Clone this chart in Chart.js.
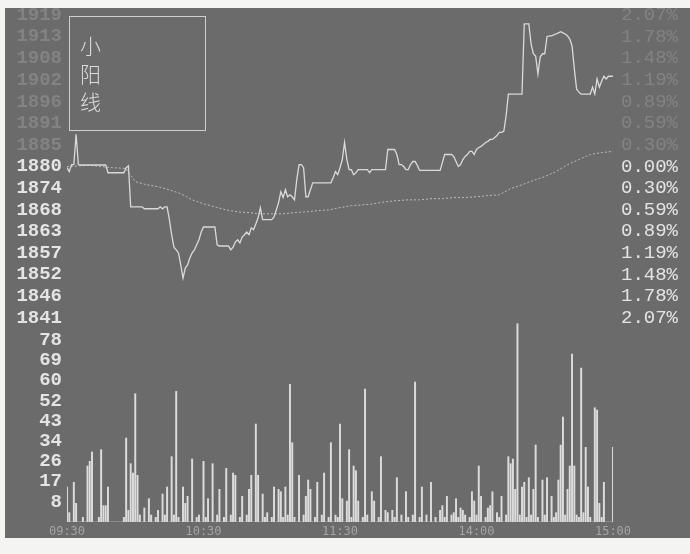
<!DOCTYPE html>
<html>
<head>
<meta charset="utf-8">
<script src="https://cdn.jsdelivr.net/npm/chart.js@4/dist/chart.umd.min.js"></script>
<style>
  html, body { margin: 0; padding: 0; background: #f4f4f2; width: 690px; height: 554px; overflow: hidden; }
  #panel { position: absolute; left: 5px; top: 8px; width: 685px; height: 530px; background: #6b6b6b; }
  #c { position: absolute; left: 0; top: 0; }
  #legendBox { position: absolute; left: 64px; top: 8px; width: 135px; height: 113px; border: 1.5px solid #cfcfcf; }
  #legendText { position: absolute; left: 10px; top: 14px; width: 24px; font-family: "Noto Sans CJK SC", sans-serif; font-weight: 300; font-size: 21px; line-height: 28px; color: #dcdcdc; }
</style>
</head>
<body>
<div id="panel">
  <canvas id="c" width="685" height="530"></canvas>
  <div id="legendBox"><div id="legendText">小<br>阳<br>线</div></div>
</div>
<script>
// ---- data ----
const timeTickLabels = ["09:30", "10:30", "11:30", "14:00", "15:00"];
const timeTickMinutes = [0, 60, 120, 180, 240];

const prevClose = 1880.0;
const priceTickValues = [1840.9, 1846.5, 1852.1, 1857.7, 1863.3, 1868.8, 1874.4, 1880.0, 1885.6, 1891.2, 1896.7, 1902.3, 1907.9, 1913.5, 1919.1];
const priceTickLabels = ["1841", "1846", "1852", "1857", "1863", "1868", "1874", "1880", "1885", "1891", "1896", "1902", "1908", "1913", "1919"];
const pctTickLabels = ["2.07%", "1.78%", "1.48%", "1.19%", "0.89%", "0.59%", "0.30%", "0.00%", "0.30%", "0.59%", "0.89%", "1.19%", "1.48%", "1.78%", "2.07%"];

const volTickValues = [8.66, 17.32, 25.98, 34.64, 43.3, 51.96, 60.62, 69.28, 77.94];
const volTickLabels = ["8", "17", "26", "34", "43", "52", "60", "69", "78"];

// price per minute (0 = 09:30 ... 240 = 15:00)
const priceValues = [
  1879.7,1878.7,1880.5,1880.5,1888.3,1880.5,1880.4,1880.4,1880.4,1880.4,
  1880.4,1880.4,1880.4,1880.4,1880.4,1880.4,1880.4,1880.4,1878.4,1878.4,
  1878.4,1878.4,1878.4,1878.4,1878.4,1878.4,1879.7,1880.2,1869.6,1869.6,
  1869.6,1869.6,1869.6,1869.6,1869.1,1869.1,1869.1,1869.1,1869.1,1869.1,
  1869.1,1869.6,1869.1,1869.6,1869.6,1866.3,1862.4,1859.2,1858.5,1857.7,
  1854.6,1851.2,1853.8,1854.6,1856.4,1857.7,1858.5,1859.8,1861.1,1863.1,
  1864.4,1864.4,1864.4,1864.4,1864.4,1864.4,1859.8,1859.5,1859.5,1859.5,
  1859.5,1859.5,1858.5,1859.2,1860.5,1861.1,1860.3,1861.8,1862.4,1863.1,
  1862.4,1864.2,1863.7,1865.2,1866.8,1869.4,1866.3,1866.3,1866.3,1866.3,
  1866.3,1867.0,1868.8,1870.7,1873.5,1872.0,1874.0,1872.2,1872.7,1872.2,
  1871.4,1876.6,1880.5,1880.5,1879.7,1872.2,1872.2,1874.0,1875.8,1875.8,
  1875.8,1875.8,1875.8,1875.8,1875.8,1875.8,1875.8,1877.1,1878.7,1877.9,
  1879.7,1881.8,1886.2,1881.8,1879.2,1879.2,1877.9,1878.4,1879.2,1879.2,
  1879.2,1879.2,1879.2,1878.4,1879.2,1879.2,1879.2,1879.2,1879.2,1879.2,
  1879.2,1884.4,1884.4,1884.4,1884.4,1883.1,1880.5,1880.5,1880.0,1879.2,
  1879.2,1880.5,1881.3,1881.3,1880.3,1879.0,1879.0,1879.0,1879.0,1879.0,
  1879.0,1879.0,1879.0,1879.0,1879.0,1881.0,1883.1,1883.1,1883.1,1883.1,
  1882.6,1881.3,1880.0,1880.5,1881.8,1882.6,1883.1,1883.9,1883.9,1883.1,
  1884.4,1884.9,1885.2,1885.7,1886.2,1886.5,1887.0,1887.0,1887.5,1888.0,
  1888.8,1888.8,1889.1,1893.0,1898.7,1898.7,1898.7,1898.7,1898.7,1898.7,
  1898.7,1916.8,1916.8,1916.8,1911.6,1909.1,1908.5,1903.9,1908.3,1909.1,
  1909.1,1913.5,1913.7,1913.7,1914.0,1914.2,1914.5,1914.8,1914.5,1914.2,
  1913.7,1912.9,1911.1,1905.2,1900.0,1899.2,1898.7,1898.7,1898.7,1898.7,
  1898.7,1900.5,1898.7,1902.6,1900.5,1902.0,1903.3,1902.6,1903.3,1903.3,
  1903.3
];

// average price line, read at these minutes
const avgMinutes = [0,10,20,26,28,30,35,40,45,50,55,60,65,70,75,80,85,90,95,100,105,110,115,120,125,130,135,140,145,150,155,160,165,170,175,180,185,190,195,200,205,210,215,220,225,230,235,240];
const avgValues = [1880.0,1880.3,1879.7,1879.5,1877.7,1876.1,1875.3,1874.8,1874.0,1873.0,1871.4,1870.4,1869.6,1868.8,1868.3,1868.1,1867.8,1867.8,1867.8,1868.1,1868.3,1868.6,1868.8,1869.4,1869.9,1870.1,1870.4,1870.9,1871.2,1871.4,1871.4,1871.7,1871.7,1872.0,1872.0,1872.2,1872.5,1872.7,1874.3,1875.3,1876.4,1877.4,1878.7,1880.5,1881.8,1883.1,1883.6,1883.9];

// volume per minute
const volumeValues = [
  15,4,0,17,8,0,0,2,0,24,
  26,30,0,0,2,31,7,7,15,0,
  0,0,0,0,0,2,36,5,25,21,
  55,20,3,0,6,0,10,3,0,2,
  5,0,12,3,15,0,28,3,56,2,
  0,15,8,11,0,27,0,2,3,0,
  26,2,10,0,25,0,3,14,0,2,
  23,0,3,21,20,0,2,11,0,3,
  14,20,0,42,20,0,12,2,4,0,
  2,15,0,14,13,2,15,3,59,34,
  2,0,20,0,3,11,18,14,0,2,
  17,0,3,21,0,2,34,0,3,2,
  42,10,0,9,31,2,24,22,9,0,
  2,57,3,0,13,9,0,2,28,0,
  5,4,0,5,2,19,0,3,0,13,
  2,0,3,60,0,2,15,0,3,0,
  17,0,2,0,5,7,2,11,0,3,
  4,10,2,6,5,3,0,2,13,9,
  3,24,11,0,2,6,7,13,0,4,
  2,11,0,3,28,25,27,14,85,3,
  15,17,2,19,3,14,33,2,0,18,
  3,19,0,11,2,4,18,33,45,3,
  14,24,72,24,3,2,66,4,32,15,
  2,0,49,48,8,2,17,0,0,0,
  32
];

// ---- chart ----
const BRIGHT = '#e4e4e4';
const FADED = '#838383';
const monoFont = { family: '"Liberation Mono", "DejaVu Sans Mono", monospace', size: 19, weight: 'bold' };

function fixTicks(values) {
  return function (scale) { scale.ticks = values.map(v => ({ value: v })); };
}
function fixWidth(w) {
  return function (scale) { scale.width = w; scale.paddingTop = 0; scale.paddingBottom = 0; };
}

new Chart(document.getElementById('c'), {
  data: {
    datasets: [
      {
        type: 'line',
        data: priceValues.map((v, i) => ({ x: i, y: v })),
        xAxisID: 'x', yAxisID: 'yPrice',
        borderColor: '#dadada', borderWidth: 1.3, pointRadius: 0, tension: 0
      },
      {
        type: 'line',
        data: avgValues.map((v, i) => ({ x: avgMinutes[i], y: v })),
        xAxisID: 'x', yAxisID: 'yPrice',
        borderColor: '#bdbdbd', borderWidth: 1, borderDash: [2, 2], pointRadius: 0, tension: 0
      },
      {
        type: 'bar',
        data: volumeValues.map((v, i) => ({ x: i, y: v })),
        xAxisID: 'x', yAxisID: 'yVol',
        backgroundColor: '#dcdcdc', barThickness: 1.3, borderWidth: 0
      }
    ]
  },
  options: {
    responsive: false,
    animation: false,
    events: [],
    layout: { padding: { top: 7, left: 0, right: 0, bottom: 0 } },
    plugins: { legend: { display: false }, tooltip: { enabled: false } },
    scales: {
      x: {
        type: 'linear', position: 'bottom', min: 0, max: 240, offset: false,
        grid: { display: false, drawTicks: false }, border: { display: false },
        afterBuildTicks: fixTicks(timeTickMinutes),
        afterFit: function (s) { s.height = 16; s.paddingLeft = 0; s.paddingRight = 0; },
        ticks: {
          autoSkip: false, maxRotation: 0, padding: 3,
          color: '#a4a4a4',
          font: { family: '"DejaVu Sans Mono", monospace', size: 12 },
          callback: (v, i) => timeTickLabels[i]
        }
      },
      yVol: {
        type: 'linear', position: 'left', stack: 'L', stackWeight: 202,
        min: 0, max: 86.6,
        grid: { display: false, drawTicks: false }, border: { display: false },
        afterBuildTicks: fixTicks(volTickValues),
        afterFit: fixWidth(62),
        ticks: {
          autoSkip: false, padding: 5, font: monoFont, color: BRIGHT,
          callback: (v, i) => volTickLabels[i]
        }
      },
      yPrice: {
        type: 'linear', position: 'left', stack: 'L', stackWeight: 305,
        min: 1840.4, max: 1919.1,
        grid: { display: false, drawTicks: false }, border: { display: false },
        afterBuildTicks: fixTicks(priceTickValues),
        afterFit: fixWidth(62),
        ticks: {
          autoSkip: false, padding: 5, font: monoFont,
          color: (ctx) => (ctx.tick && ctx.tick.value > prevClose + 0.1) ? FADED : BRIGHT,
          callback: (v, i) => priceTickLabels[i]
        }
      },
      yPct: {
        type: 'linear', position: 'right', stack: 'R', stackWeight: 305,
        min: 1840.4, max: 1919.1,
        grid: { display: false, drawTicks: false }, border: { display: false },
        afterBuildTicks: fixTicks(priceTickValues),
        afterFit: fixWidth(77),
        ticks: {
          autoSkip: false, padding: 8, font: { family: '"Liberation Mono", "DejaVu Sans Mono", monospace', size: 19 },
          color: (ctx) => (ctx.tick && ctx.tick.value > prevClose + 0.1) ? FADED : BRIGHT,
          callback: (v, i) => pctTickLabels[i]
        }
      },
      yVolR: {
        type: 'linear', position: 'right', stack: 'R', stackWeight: 202,
        min: 0, max: 86.6,
        grid: { display: false, drawTicks: false }, border: { display: false },
        afterFit: fixWidth(77),
        ticks: { display: false }
      }
    }
  }
});
</script>
</body>
</html>
